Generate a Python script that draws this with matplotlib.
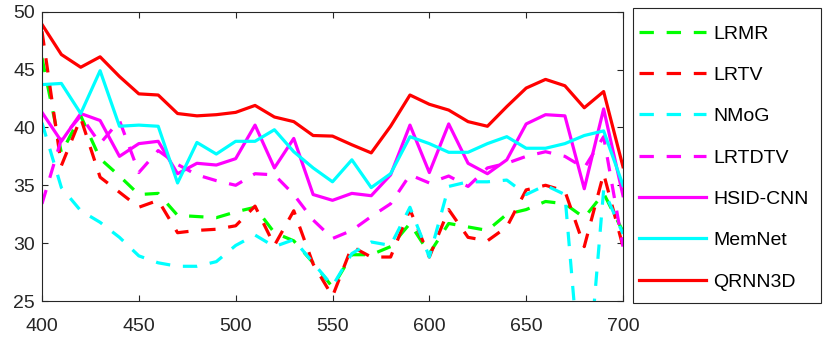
import matplotlib
matplotlib.use("Agg")
import matplotlib.pyplot as plt
from matplotlib.patches import Rectangle

plt.rcParams['font.family'] = ['Liberation Sans', 'DejaVu Sans']

# wavelength (nm)
wl = [400, 410, 420, 430, 440, 450, 460, 470, 480, 490, 500,
      510, 520, 530, 540, 550, 560, 570, 580, 590, 600,
      610, 620, 630, 640, 650, 660, 670, 680, 690, 700]

lrmr = [46.0, 37.8, 41.0, 37.3, 35.8, 34.2, 34.3, 32.4, 32.3, 32.2, 32.7,
        33.1, 30.9, 30.2, 28.3, 26.2, 29.0, 29.0, 29.7, 31.7, 29.1,
        31.7, 31.4, 31.1, 32.5, 32.9, 33.6, 33.4, 32.2, 34.3, 31.0]
lrtv = [48.3, 36.7, 40.8, 35.7, 34.4, 33.1, 33.7, 30.9, 31.1, 31.2, 31.5,
        33.2, 29.8, 32.8, 28.2, 25.4, 29.7, 28.8, 28.8, 32.9, 28.8,
        32.9, 30.5, 30.2, 31.4, 34.6, 35.0, 34.5, 29.7, 36.0, 29.7]
nmog = [40.4, 34.8, 32.8, 31.8, 30.5, 28.9, 28.3, 28.0, 28.0, 28.4, 29.8,
        30.7, 29.7, 30.3, 28.3, 26.3, 29.1, 30.1, 29.8, 33.1, 28.8,
        34.9, 35.3, 35.3, 35.45, 34.2, 35.0, 34.2, 14.5, 34.6, 30.8]
lrtdtv = [33.4, 39.0, 41.0, 38.6, 40.6, 36.1, 38.0, 36.8, 35.9, 35.4, 35.0,
          36.0, 35.9, 34.2, 32.0, 30.4, 31.1, 32.3, 33.4, 35.9, 35.2,
          35.8, 34.9, 36.5, 36.9, 37.5, 37.9, 37.5, 36.5, 39.2, 29.7]
hsid = [41.3, 38.8, 41.2, 40.6, 37.5, 38.6, 38.8, 36.0, 36.9, 36.75, 37.3,
        40.2, 36.5, 39.05, 34.2, 33.7, 34.3, 34.1, 35.9, 40.2, 36.1,
        40.3, 36.9, 36.0, 37.2, 40.3, 41.1, 41.0, 34.7, 41.6, 34.1]
memnet = [43.7, 43.8, 41.2, 44.9, 40.1, 40.2, 40.1, 35.2, 38.7, 37.7, 38.8,
          38.8, 39.8, 37.9, 36.5, 35.3, 37.2, 34.8, 36.0, 39.2, 38.6,
          37.85, 37.85, 38.6, 39.2, 38.2, 38.2, 38.6, 39.3, 39.7, 35.0]
qrnn3d = [48.9, 46.3, 45.2, 46.1, 44.4, 42.9, 42.8, 41.2, 41.0, 41.1, 41.3,
          41.9, 40.9, 40.5, 39.3, 39.25, 38.5, 37.8, 40.1, 42.8, 42.0,
          41.5, 40.5, 40.1, 41.8, 43.4, 44.15, 43.6, 41.7, 43.1, 36.6]

W, H = 830, 339
fig = plt.figure(figsize=(W / 100, H / 100), dpi=100)
ax = fig.add_axes([42 / W, 1 - 301 / H, 581 / W, 289.3 / H])

dash = (0, (4.5, 4))
lw = 2.3
ax.plot(wl, lrmr, color=(0, 1, 0), ls=dash, lw=lw, label='LRMR')
ax.plot(wl, lrtv, color=(1, 0, 0), ls=dash, lw=lw, label='LRTV')
ax.plot(wl, nmog, color=(0, 1, 1), ls=dash, lw=lw, label='NMoG')
ax.plot(wl, lrtdtv, color=(1, 0, 1), ls=dash, lw=lw, label='LRTDTV')
ax.plot(wl, hsid, color=(1, 0, 1), lw=lw, label='HSID-CNN')
ax.plot(wl, memnet, color=(0, 1, 1), lw=lw, label='MemNet')
ax.plot(wl, qrnn3d, color=(1, 0, 0), lw=lw, label='QRNN3D')

ax.set_xlim(400, 700)
ax.set_ylim(25, 50)
ax.set_xticks([400, 450, 500, 550, 600, 650, 700])
ax.set_yticks([25, 30, 35, 40, 45, 50])
ax.tick_params(direction='in', top=True, right=True, length=4.5, width=0.8,
               labelsize=14, colors='#262626')
ax.tick_params(axis='x', pad=12)
ax.tick_params(axis='y', pad=5)
for s in ax.spines.values():
    s.set_color('#262626')
    s.set_linewidth(0.8)

# legend box drawn separately, entries placed inside without frame
fig.patches.append(Rectangle((633 / W, 1 - 303 / H), 188 / W, 295 / H,
                             transform=fig.transFigure, fill=False,
                             edgecolor='#262626', lw=0.8))
leg = ax.legend(loc='upper left', bbox_to_anchor=(639 / W, 1 - 25 / H),
                bbox_transform=fig.transFigure, borderaxespad=0, borderpad=0,
                fontsize=14, handlelength=3.45, handletextpad=0.36,
                labelspacing=1.22, frameon=False)

fig.savefig('out.png', dpi=100)
plt.close(fig)
